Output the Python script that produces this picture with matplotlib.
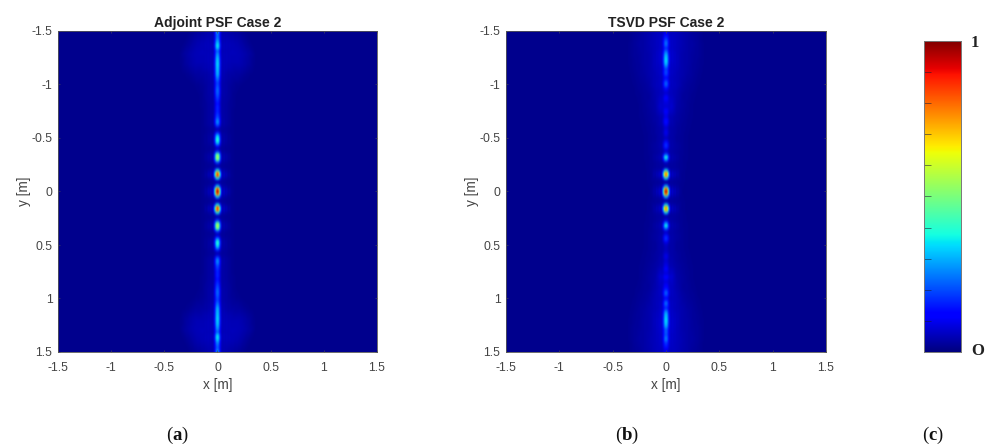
import matplotlib
matplotlib.use('Agg')
import matplotlib.pyplot as plt
import numpy as np

plt.rcParams['font.family'] = ['Liberation Sans', 'DejaVu Sans']
plt.rcParams['mathtext.fontset'] = 'custom'
plt.rcParams['mathtext.rm'] = 'Liberation Serif'
plt.rcParams['mathtext.bf'] = 'Liberation Serif:bold'

W, H = 987, 448

titles = ['Adjoint PSF Case 2', 'TSVD PSF Case 2']
captions = ['a', 'b', 'c']
tick_vals = [-1.5, -1, -0.5, 0, 0.5, 1, 1.5]
tick_labels = ['-1.5', '-1', '-0.5', '0', '0.5', '1', '1.5']
bar_labels = ['1', 'O']

# brightness along x = 0, read every 0.025 m from y = -1.5 down to y = 0
adj_top = [.24, .20, .21, .24, .29, .33, .29, .19, .23, .26, .29, .30, .31, .30, .29, .28,
           .27, .23, .20, .17, .18, .20, .21, .20, .18, .16, .14, .12, .14, .14, .14, .16,
           .18, .23, .25, .18, .05, .03, .16, .31, .38, .38, .27, .09, .03, .17, .46, .56,
           .48, .19, .03, .03, .36, .80, .86, .36, .03, .03, .32, .82]
adj_mid = 1.0
# and from y = 0.025 to y = 1.5
adj_bot = [.82, .32, .03, .03, .36, .83, .83, .36, .03, .03, .19, .48, .58, .46, .17, .03,
           .09, .27, .39, .37, .29, .15, .03, .05, .18, .25, .23, .18, .16, .14, .14, .14,
           .12, .14, .16, .18, .20, .21, .20, .18, .17, .20, .23, .27, .28, .29, .30, .31,
           .30, .29, .26, .23, .19, .29, .33, .29, .23, .20, .18, .23]

tsvd_top = [.05, .08, .12, .16, .20, .18, .12, .18, .24, .28, .30, .30, .27, .20, .14, .16,
            .14, .08, .12, .18, .17, .10, .05, .03, .06, .08, .05, .04, .03, .06, .08, .06,
            .06, .10, .11, .07, .04, .06, .07, .05, .03, .08, .14, .15, .08, .04, .18, .38,
            .26, .05, .02, .02, .34, .76, .78, .34, .02, .02, .30, .80]
tsvd_mid = 1.0
tsvd_bot = [.80, .30, .02, .02, .34, .76, .74, .32, .02, .03, .07, .26, .36, .20, .05, .06,
            .14, .15, .08, .04, .03, .03, .04, .06, .06, .04, .05, .06, .08, .06, .04, .08,
            .06, .04, .06, .08, .12, .18, .16, .08, .12, .20, .16, .12, .20, .26, .28, .30,
            .30, .28, .24, .17, .18, .16, .20, .20, .14, .12, .08, .05]

# lateral shape of the main spots, offset from x = 0 in steps of 0.0125 m
lateral_x = [0, .0125, .025, .0375, .05, .0625, .075, .0875, .1, .1125, .125, .15]
lateral_vals = [1, .82, .38, .09, .015, .05, .015, .035, .008, .02, .006, 0]

# faint halo: rows |y| = 0, 0.1 ... 1.5, columns |x| = 0, 0.05 ... 0.4
halo_x = [0, .05, .1, .15, .2, .25, .3, .35, .4]
halo_y = [0, .1, .2, .3, .4, .5, .6, .7, .8, .9, 1.0, 1.1, 1.2, 1.3, 1.4, 1.5]
adj_halo = [
    [.01, .015, .008, .004, 0, 0, 0, 0, 0],
    [.01, .015, .008, .004, 0, 0, 0, 0, 0],
    [.01, .015, .008, .004, 0, 0, 0, 0, 0],
    [.01, .012, .008, .004, 0, 0, 0, 0, 0],
    [.01, .012, .008, .004, 0, 0, 0, 0, 0],
    [.01, .012, .008, .004, 0, 0, 0, 0, 0],
    [.01, .015, .01, .004, 0, 0, 0, 0, 0],
    [.01, .02, .012, .004, 0, 0, 0, 0, 0],
    [.01, .02, .014, .005, 0, 0, 0, 0, 0],
    [.01, .02, .015, .006, 0, 0, 0, 0, 0],
    [.01, .022, .016, .01, .005, 0, 0, 0, 0],
    [.02, .025, .02, .02, .018, .01, .004, 0, 0],
    [.02, .03, .032, .034, .034, .026, .016, .004, 0],
    [.02, .032, .036, .04, .038, .03, .02, .004, 0],
    [.02, .03, .036, .036, .03, .018, .006, 0, 0],
    [.02, .026, .024, .02, .014, .006, 0, 0, 0],
]
tsvd_halo = [
    [.01, .018, .01, .004, 0, 0, 0, 0, 0],
    [.01, .018, .012, .006, .002, 0, 0, 0, 0],
    [.01, .018, .014, .008, .002, 0, 0, 0, 0],
    [.01, .02, .014, .008, .004, 0, 0, 0, 0],
    [.012, .024, .016, .01, .004, 0, 0, 0, 0],
    [.012, .024, .014, .01, .004, 0, 0, 0, 0],
    [.015, .026, .016, .01, .006, .002, 0, 0, 0],
    [.02, .032, .02, .014, .008, .004, 0, 0, 0],
    [.03, .06, .026, .018, .01, .004, 0, 0, 0],
    [.03, .045, .03, .016, .012, .006, .002, 0, 0],
    [.03, .04, .036, .024, .014, .01, .004, 0, 0],
    [.03, .045, .036, .03, .02, .014, .007, .002, 0],
    [.03, .045, .04, .03, .024, .015, .01, .004, 0],
    [.03, .05, .04, .03, .024, .017, .012, .004, 0],
    [.03, .045, .04, .034, .024, .02, .012, .004, 0],
    [.03, .045, .04, .03, .024, .014, .01, .002, 0],
]
background = 0.012


def ejes_px(left, top, right, bottom):
    # position given in image pixels, y from the top
    return fig.add_axes([left / W, 1 - bottom / H, (right - left) / W, (bottom - top) / H])


def armar_campo(axial, halo):
    x = np.linspace(-1.5, 1.5, 241)
    y = np.linspace(-1.5, 1.5, 121)
    lat = np.interp(np.abs(x), lateral_x, lateral_vals)
    # halo table onto the image grid, first along x and then along y
    por_x = np.array([np.interp(np.abs(x), halo_x, fila, right=0) for fila in halo])
    campo_halo = np.array([[np.interp(abs(v), halo_y, por_x[:, k]) for k in range(x.size)]
                           for v in y])
    return np.outer(axial, lat) + campo_halo + background


fig = plt.figure(figsize=(W / 100, H / 100), dpi=100)

paneles = [
    (58, 377, titles[0], adj_top + [adj_mid] + adj_bot, adj_halo),
    (506, 826, titles[1], tsvd_top + [tsvd_mid] + tsvd_bot, tsvd_halo),
]
for left, right, titulo, axial, halo in paneles:
    ax = ejes_px(left, 31, right, 352)
    ax.imshow(armar_campo(np.array(axial), halo), cmap='jet', vmin=0, vmax=1,
              extent=(-1.5, 1.5, 1.5, -1.5), aspect='auto', interpolation='bicubic')
    ax.set_xticks(tick_vals)
    ax.set_xticklabels(tick_labels)
    ax.set_yticks(tick_vals)
    ax.set_yticklabels(tick_labels)
    ax.tick_params(direction='in', length=1.5, width=0.5, color='#404060', labelsize=8.8,
                   labelcolor='#444444', top=True, right=True)
    ax.tick_params(axis='x', pad=7)
    ax.tick_params(axis='y', pad=4)
    ax.set_xlabel('x [m]', fontsize=9.8, color='#444444', labelpad=3)
    ax.set_ylabel('y [m]', fontsize=9.8, color='#444444', labelpad=0)
    ax.set_title(titulo, fontsize=10, fontweight='bold', color='#222222', pad=3)
    for s in ax.spines.values():
        s.set_linewidth(0.6)
        s.set_color('#555555')

# colour bar
cax = ejes_px(924.5, 41, 961, 352)
cax.imshow(np.linspace(1, 0, 256).reshape(-1, 1), cmap='jet', vmin=0, vmax=1,
           extent=(0, 1, 0, 1), aspect='auto')
cax.set_xticks([])
cax.set_yticks(np.arange(0.1, 1.0, 0.1))
cax.set_yticklabels([])
cax.tick_params(axis='y', direction='in', length=5, width=0.7, color=(0.1, 0.1, 0.2, 0.55))
for s in cax.spines.values():
    s.set_linewidth(0.7)
    s.set_color('#777777')

fig.text(971 / W, 1 - 43 / H, bar_labels[0], fontsize=12, fontweight='bold',
         family='Liberation Serif', color='#222222', ha='left', va='center')
fig.text(971 / W, 1 - 351 / H, bar_labels[1], fontsize=12, fontweight='bold',
         family='Liberation Serif', color='#222222', ha='left', va='center')

for cx, letra in zip([177, 627, 933], captions):
    fig.text(cx / W, 1 - 435 / H, r'($\mathbf{' + letra + r'}$)', fontsize=13.5,
             family='Liberation Serif', color='#111111', ha='center', va='center')

fig.savefig('out.png', dpi=100)
